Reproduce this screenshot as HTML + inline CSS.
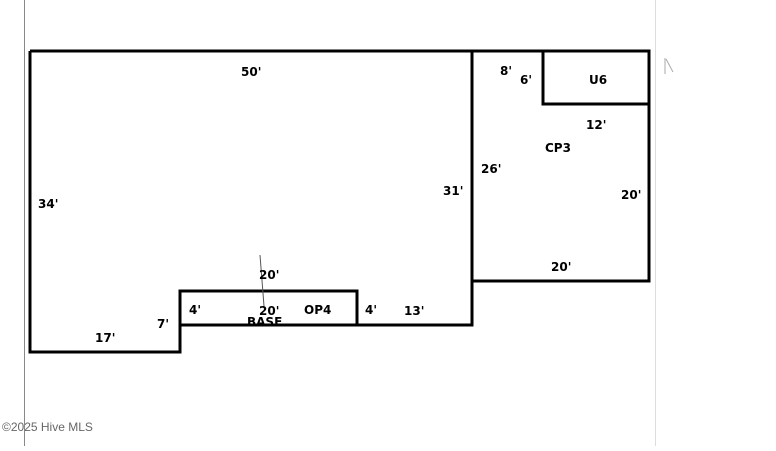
<!DOCTYPE html>
<html><head><style>
body{margin:0;width:776px;height:446px;background:#fff;overflow:hidden;}
svg text{font-family:"DejaVu Sans","Liberation Sans",sans-serif;font-weight:bold;font-size:12px;fill:#000;}
</style></head><body>
<svg width="776" height="446" viewBox="0 0 776 446" xmlns="http://www.w3.org/2000/svg">
<line x1="24.5" y1="0" x2="24.5" y2="446" stroke="#888" stroke-width="1"/>
<line x1="655.5" y1="0" x2="655.5" y2="446" stroke="#ddd" stroke-width="1"/>
<g fill="none" stroke="#000" stroke-width="3">
<polyline points="30,51 472,51 472,325 180,325 180,352 30,352 30,51"/>
<rect x="180" y="291" width="177" height="34"/>
<rect x="472" y="51" width="177" height="230"/>
<polyline points="543,51 543,104 649,104"/>
</g>
<line x1="260" y1="255" x2="264" y2="306" stroke="#555" stroke-width="1"/>
<text x="241" y="76">50'</text>
<text x="38" y="208">34'</text>
<text x="443" y="195">31'</text>
<text x="95" y="342">17'</text>
<text x="157" y="328">7'</text>
<text x="189" y="314">4'</text>
<text x="259" y="279">20'</text>
<text x="259" y="315">20'</text>
<text x="247" y="326">BASE</text>
<text x="304" y="314">OP4</text>
<text x="365" y="314">4'</text>
<text x="404" y="315">13'</text>
<text x="500" y="75">8'</text>
<text x="520" y="84">6'</text>
<text x="589" y="84">U6</text>
<text x="586" y="129">12'</text>
<text x="545" y="152">CP3</text>
<text x="481" y="173">26'</text>
<text x="621" y="199">20'</text>
<text x="551" y="271">20'</text>
<text x="2" y="431" style="font-weight:normal;font-size:12px;fill:#666;font-family:'Liberation Sans',sans-serif">©2025 Hive MLS</text>
<path d="M665,58 L665,74 M666,59 L673,72" stroke="#aaa" stroke-width="1" fill="none"/>
</svg>
</body></html>
